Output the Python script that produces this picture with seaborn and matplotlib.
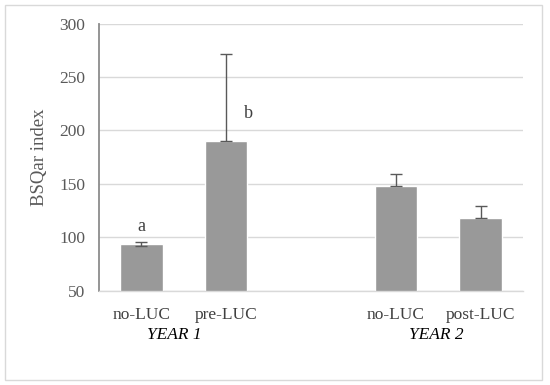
import matplotlib
matplotlib.use("Agg")
import matplotlib.pyplot as plt
import seaborn as sns
import pandas as pd
from matplotlib.patches import Rectangle

categories = ["no-LUC", "pre-LUC", "", "no-LUC", "post-LUC"]
values = [94, 190, None, 148, 118]
err_upper = [2, 81, None, 11, 11.5]
err_lower = [2, 0, None, 0, 0]
letters = ["a", "b"]
year_labels = ["YEAR 1", "YEAR 2"]
yticks = [50, 100, 150, 200, 250, 300]

sns.set_theme(style="white")
plt.rcParams['font.family'] = ['Liberation Serif', 'DejaVu Serif']

slots = [f"s{i}" for i in range(len(categories))]
df = pd.DataFrame({"slot": slots, "value": [v if v is not None else 0 for v in values]})

fig = plt.figure(figsize=(5.5, 3.85), dpi=100)
ax = fig.add_axes([99/550, 1 - 290.7/385, (523 - 99)/550, (290.7 - 23.5)/385])

ax.set_axisbelow(True)
for t in yticks:
    ax.axhline(t, color="#d9d9d9", lw=1.0, zorder=0)

sns.barplot(data=df, x="slot", y="value", order=slots, color="#999999",
            width=0.5, ax=ax, zorder=2, saturation=1, errorbar=None)

for i, v in enumerate(values):
    if v is None:
        continue
    ax.errorbar(i, v, yerr=[[err_lower[i]], [err_upper[i]]], fmt="none",
                ecolor="#595959", elinewidth=1.0, capsize=4, capthick=1.0, zorder=3)

ax.set_ylim(50, 300)
ax.set_xlim(-0.5, 4.5)
ax.set_yticks(yticks)
ax.set_xticks(range(len(categories)))
ax.set_xticklabels(categories, fontsize=12.5, color="#404040")
ax.tick_params(axis="y", labelsize=12.5, labelcolor="#595959", length=0, pad=10)
ax.tick_params(axis="x", length=0, pad=12)
ax.set_xlabel("")
ax.set_ylabel("BSQar index", fontsize=13.5, color="#595959", labelpad=8)

for s in ["top", "right"]:
    ax.spines[s].set_visible(False)
ax.spines["left"].set_color("#8c8c8c")
ax.spines["left"].set_linewidth(1.3)
ax.spines["bottom"].set_color("#d9d9d9")
ax.spines["bottom"].set_linewidth(1.0)

ax.text(0, 110, letters[0], ha="center", va="center", fontsize=13, color="#404040")
ax.text(1.26, 216, letters[1], ha="center", va="center", fontsize=13, color="#404040")

for x, lab in zip([0.39, 3.48], year_labels):
    ax.text(x, -(335 - 290.7) / (290.7 - 23.5), lab, transform=ax.get_xaxis_transform(),
            ha="center", va="center", fontsize=12.5, style="italic", color="black")

fig.patches.append(Rectangle((5/550, 1 - 380/385), (542 - 5)/550, (380 - 5)/385,
                             transform=fig.transFigure, fill=False,
                             edgecolor="#d9d9d9", lw=1.0))

fig.savefig("out.png", dpi=100)
